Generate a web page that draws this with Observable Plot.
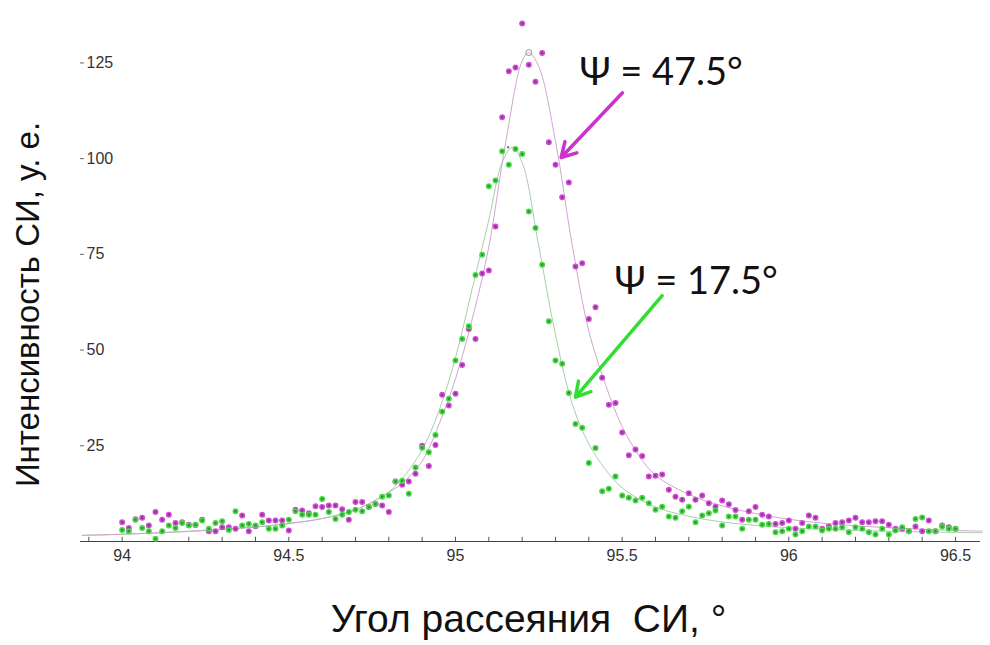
<!DOCTYPE html>
<html>
<head>
<meta charset="utf-8">
<script src="https://cdn.jsdelivr.net/npm/d3@7"></script>
<script src="https://cdn.jsdelivr.net/npm/@observablehq/plot@0.6"></script>
<style>
  html, body { margin: 0; padding: 0; background: #fff; }
  #chart svg { display: block; }
</style>
</head>
<body>
<div id="chart"></div>
<script>
// Scattering angle of the measured points, degrees
const angle = [
  94.00, 94.02, 94.04, 94.06, 94.08, 94.10, 94.12, 94.14, 94.16, 94.18,
  94.20, 94.22, 94.24, 94.26, 94.28, 94.30, 94.32, 94.34, 94.36, 94.38,
  94.40, 94.42, 94.44, 94.46, 94.48, 94.50, 94.52, 94.54, 94.56, 94.58,
  94.60, 94.62, 94.64, 94.66, 94.68, 94.70, 94.72, 94.74, 94.76, 94.78,
  94.80, 94.82, 94.84, 94.86, 94.88, 94.90, 94.92, 94.94, 94.96, 94.98,
  95.00, 95.02, 95.04, 95.06, 95.08, 95.10, 95.12, 95.14, 95.16, 95.18,
  95.20, 95.22, 95.24, 95.26, 95.28, 95.30, 95.32, 95.34, 95.36, 95.38,
  95.40, 95.42, 95.44, 95.46, 95.48, 95.50, 95.52, 95.54, 95.56, 95.58,
  95.60, 95.62, 95.64, 95.66, 95.68, 95.70, 95.72, 95.74, 95.76, 95.78,
  95.80, 95.82, 95.84, 95.86, 95.88, 95.90, 95.92, 95.94, 95.96, 95.98,
  96.00, 96.02, 96.04, 96.06, 96.08, 96.10, 96.12, 96.14, 96.16, 96.18,
  96.20, 96.22, 96.24, 96.26, 96.28, 96.30, 96.32, 96.34, 96.36, 96.38,
  96.40, 96.42, 96.44, 96.46, 96.48, 96.50
];

// Measured intensity at psi = 47.5 deg (magenta)
const intensity475 = [
  5.0, 3.5, 5.8, 6.2, 4.2, 7.7, 5.7, 7.0, 4.8, 5.0,
  4.4, 4.3, 5.7, 2.7, 2.7, 3.7, 3.7, 3.3, 6.8, 2.7,
  4.0, 7.0, 5.5, 5.5, 5.5, 2.9, 8.3, 8.1, 7.4, 9.2,
  9.0, 9.4, 9.4, 8.4, 5.7, 10.3, 10.3, 9.0, 9.8, 9.4,
  7.7, 15.7, 14.8, 15.7, 17.7, 25.0, 19.7, 25.2, 38.3, 35.5,
  38.6, 46.1, 55.5, 52.9, 70.0, 70.8, 82.3, 110.8, 122.8, 123.8,
  135.3, 124.5, 120.1, 127.6, 104.3, 98.4, 89.9, 93.8, 71.8, 72.7,
  58.1, 61.2, 42.8, 35.7, 36.2, 28.5, 22.5, 24.0, 22.3, 17.0,
  17.2, 17.5, 13.5, 11.7, 10.9, 12.6, 10.9, 12.0, 10.0, 9.1,
  10.7, 9.7, 8.2, 5.7, 7.9, 9.0, 7.0, 6.5, 4.6, 4.8,
  5.5, 3.3, 4.8, 6.8, 6.2, 3.3, 3.9, 4.8, 5.0, 5.5,
  6.2, 5.0, 5.0, 5.3, 5.3, 4.4, 3.3, 3.3, 2.7, 3.9,
  2.7, 5.5, 2.7, 4.2, 3.7, 3.3
];

// Measured intensity at psi = 17.5 deg (green)
const intensity175 = [
  3.0, 2.7, 5.7, 3.5, 2.7, 0.7, 2.7, 4.2, 3.5, 4.8,
  4.2, 4.4, 5.5, 3.3, 4.8, 5.3, 3.0, 7.9, 4.2, 4.6,
  4.2, 5.0, 3.3, 3.3, 4.2, 5.7, 7.9, 7.0, 7.0, 7.0,
  11.1, 7.7, 5.9, 7.0, 7.7, 8.3, 7.9, 9.0, 9.8, 11.7,
  12.0, 15.7, 15.9, 12.5, 19.3, 24.5, 23.3, 27.8, 33.9, 37.3,
  47.3, 52.9, 56.2, 69.6, 74.9, 92.8, 94.3, 101.9, 98.4, 102.5,
  101.2, 86.2, 81.9, 72.3, 57.5, 47.3, 46.4, 38.8, 30.7, 29.7,
  20.5, 24.4, 13.1, 13.8, 17.0, 12.0, 11.4, 10.7, 11.4, 10.0,
  8.3, 9.1, 6.5, 6.2, 7.9, 9.1, 5.0, 6.8, 7.4, 8.1,
  4.2, 6.5, 6.5, 3.3, 5.7, 5.7, 4.4, 4.6, 2.4, 2.7,
  3.3, 1.8, 2.7, 3.9, 3.9, 2.9, 3.3, 3.3, 3.7, 2.4,
  3.7, 3.3, 2.4, 1.8, 3.3, 1.8, 2.9, 3.7, 2.7, 5.9,
  6.3, 2.7, 2.7, 3.9, 3.3, 3.3
];

// Fitted profile, psi = 47.5 deg
const fit475Angle = [93.88, 94.0, 94.2, 94.4, 94.5, 94.6, 94.7, 94.8, 94.85, 94.9, 94.95, 95.0, 95.05, 95.1, 95.15, 95.2, 95.22, 95.25, 95.3, 95.35, 95.4, 95.45, 95.5, 95.55, 95.6, 95.7, 95.8, 95.9, 96.0, 96.1, 96.2, 96.3, 96.4, 96.5, 96.58];
const fit475Value = [1.6, 1.9, 2.7, 3.8, 4.7, 6.0, 8.3, 12.8, 16.0, 21.0, 30.5, 42.5, 58.0, 77.0, 104.0, 125.5, 127.7, 124.0, 104.5, 77.5, 55.0, 41.0, 30.0, 22.5, 17.3, 12.3, 9.3, 7.3, 5.8, 4.8, 4.1, 3.6, 3.2, 2.9, 2.7];

// Fitted profile, psi = 17.5 deg
const fit175Angle = [93.88, 94.0, 94.2, 94.4, 94.5, 94.6, 94.7, 94.8, 94.85, 94.9, 94.95, 95.0, 95.05, 95.1, 95.14, 95.17, 95.2, 95.25, 95.3, 95.35, 95.4, 95.45, 95.5, 95.6, 95.7, 95.8, 95.9, 96.0, 96.2, 96.4, 96.58];
const fit175Value = [1.6, 1.9, 2.6, 3.8, 4.7, 6.0, 8.3, 13.0, 17.5, 24.0, 34.0, 48.0, 66.0, 84.0, 99.0, 102.9, 99.0, 77.0, 54.0, 36.0, 25.5, 18.8, 14.0, 9.0, 6.6, 5.1, 4.2, 3.6, 2.9, 2.5, 2.3];

// Fit maxima
const peakAngle = [95.22, 95.158];
const peakValue = [127.7, 103.0];

// Axis ticks
const xTickLabels = [94, 94.5, 95, 95.5, 96, 96.5];
const xMinorTicks = [93.9, 94.0, 94.1, 94.2, 94.3, 94.4, 94.5, 94.6, 94.7, 94.8, 94.9, 95.0, 95.1, 95.2, 95.3, 95.4, 95.5, 95.6, 95.7, 95.8, 95.9, 96.0, 96.1, 96.2, 96.3, 96.4, 96.5];
const yTickLabels = [25, 50, 75, 100, 125];

// Annotation labels and arrows
const annotations = [
  {text: "Ψ = 47.5°", x: 95.372, y: 122.5},
  {text: "Ψ = 17.5°", x: 95.477, y: 67.9}
];
const arrows = [
  {x1: 95.501, y1: 117.2, x2: 95.317, y2: 100.3, color: "#cc33cc"},
  {x1: 95.620, y1: 64.2, x2: 95.360, y2: 37.7, color: "#33dd33"}
];

const xTitle = "Угол рассеяния  СИ, °";
const yTitle = "Интенсивность СИ, у. е.";

const xMin = 93.875, xMax = 96.575;

const pts475 = angle.map((a, i) => ({a, v: intensity475[i]}));
const pts175 = angle.map((a, i) => ({a, v: intensity175[i]}));
const fit475 = fit475Angle.map((a, i) => ({a, v: fit475Value[i]}));
const fit175 = fit175Angle.map((a, i) => ({a, v: fit175Value[i]}));
const peaks = peakAngle.map((a, i) => ({a, v: peakValue[i]}));

const chart = Plot.plot({
  width: 990,
  height: 645,
  marginLeft: 80,
  marginRight: 10,
  marginTop: 5,
  marginBottom: 104,
  x: {domain: [xMin, xMax], axis: null},
  y: {domain: [0, 140], axis: null},
  style: {fontFamily: "'Liberation Sans', Arial, sans-serif", background: "#fff", overflow: "visible"},
  marks: [
    // horizontal axis with small upward ticks
    Plot.ruleY([0], {x1: xMin, x2: xMax, stroke: "#444", strokeWidth: 1}),
    Plot.ruleX(xMinorTicks, {x: d => d, y1: 0, y2: 1.1, stroke: "#555", strokeWidth: 1}),
    Plot.text(xTickLabels, {x: d => d, y: 0, text: d => String(d), dy: 14, fontSize: 16, fill: "#333"}),
    // vertical tick marks and labels
    Plot.ruleY(yTickLabels, {y: d => d, x1: xMin, x2: xMin + 0.012, stroke: "#666", strokeWidth: 1}),
    Plot.text(yTickLabels, {x: xMin, y: d => d, text: d => String(d), textAnchor: "start", dx: 6, fontSize: 16, fill: "#333"}),
    // fitted profiles
    Plot.line(fit175, {x: "a", y: "v", stroke: "#a9cfa9", strokeWidth: 1, curve: "catmull-rom"}),
    Plot.line(fit475, {x: "a", y: "v", stroke: "#cfa6cf", strokeWidth: 1, curve: "catmull-rom"}),
    Plot.dot(peaks.slice(0, 1), {x: "a", y: "v", r: 3, stroke: "#999", strokeWidth: 1, fill: "none"}),
    Plot.dot(peaks.slice(1), {x: "a", y: "v", r: 1.2, fill: "#777"}),
    // measured points
    Plot.dot(pts475, {x: "a", y: "v", r: 2.2, fill: "#7d3f80", stroke: "#d54ad8", strokeWidth: 1.6}),
    Plot.dot(pts175, {x: "a", y: "v", r: 2.2, fill: "#3f8a3f", stroke: "#44dc44", strokeWidth: 1.6}),
    // annotations
    Plot.arrow(arrows, {x1: "x1", y1: "y1", x2: "x2", y2: "y2", stroke: d => d.color, strokeWidth: 3.5, headLength: 7}),
    Plot.text(annotations, {x: "x", y: "y", text: "text", textAnchor: "start", lineAnchor: "middle", fontSize: 38, fontFamily: "Lato, 'Open Sans', sans-serif", fill: "#111"}),
    // axis titles
    Plot.text([xTitle], {frameAnchor: "bottom", text: d => d, textAnchor: "middle", lineAnchor: "middle", dx: -2, dy: 78, fontSize: 39, fill: "#111"}),
    Plot.text([yTitle], {frameAnchor: "left", text: d => d, textAnchor: "middle", lineAnchor: "middle", rotate: -90, dx: -52, dy: 31, fontSize: 33, fill: "#111"})
  ]
});

document.getElementById("chart").appendChild(chart);
</script>
</body>
</html>
